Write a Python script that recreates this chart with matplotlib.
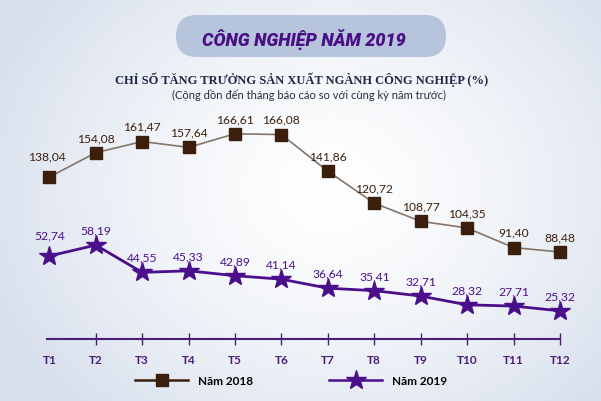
import numpy as np
import matplotlib.pyplot as plt
from matplotlib.patches import FancyBboxPatch
from matplotlib.lines import Line2D

months = ['T1', 'T2', 'T3', 'T4', 'T5', 'T6', 'T7', 'T8', 'T9', 'T10', 'T11', 'T12']
y2018 = [138.04, 154.08, 161.47, 157.64, 166.61, 166.08, 141.86, 120.72, 108.77, 104.35, 91.40, 88.48]
y2019 = [52.74, 58.19, 44.55, 45.33, 42.89, 41.14, 36.64, 35.41, 32.71, 28.32, 27.71, 25.32]

c18 = '#3b1f0c'
c18_line = '#857468'
c19 = '#4b0f8c'
c_axis = '#4b1d7a'

W, H = 601, 402
fig = plt.figure(figsize=(W / 100, H / 100), dpi=100)

# background gradient
bg = fig.add_axes([0, 0, 1, 1])
yy, xx = np.mgrid[0:H, 0:W]
r = np.sqrt(((xx - 330) / 360.0) ** 2 + ((yy - 190) / 300.0) ** 2)
r = np.clip(r, 0, 1)
c_in = np.array([1.0, 1.0, 1.0])
c_out = np.array([0.85, 0.88, 0.93])
img = c_in + (c_out - c_in) * r[..., None] ** 1.4
bg.imshow(img, aspect='auto', extent=[0, W, H, 0])
bg.set_xlim(0, W)
bg.set_ylim(H, 0)
bg.axis('off')

# title pill
pill = FancyBboxPatch((176, 16), 270, 42, boxstyle='round,pad=0,rounding_size=21',
                      fc='#b6c4dc', ec='none')
bg.add_patch(pill)
bg.text(304, 39, 'CÔNG NGHIỆP NĂM 2019', ha='center', va='center', fontsize=13,
        fontweight='heavy', style='italic', color='#4a0f85', family='Roboto')
bg.text(302, 80, 'CHỈ SỐ TĂNG TRƯỞNG SẢN XUẤT NGÀNH CÔNG NGHIỆP (%)', ha='center',
        va='center', fontsize=9, fontweight='bold', color='#1c2645', family='Liberation Serif')
bg.text(309, 95, '(Cộng dồn đến tháng báo cáo so với cùng kỳ năm trước)', ha='center',
        va='center', fontsize=8, color='#262b40', family='Lato')

# plot axes: x 0..11 -> 47..560 px, axis line at y=340 px, top at 100 px
left, right = 47 / W, 560 / W
bottom, top = (H - 340) / H, (H - 100) / H
ax1 = fig.add_axes([left, bottom, right - left, top - bottom])
ax2 = fig.add_axes([left, bottom, right - left, top - bottom])
ax1.patch.set_alpha(0)
ax2.patch.set_alpha(0)

x = np.arange(len(months))
ax1.plot(x, y2018, color=c18_line, lw=1.2, zorder=2, clip_on=False)
ax1.plot(x, y2018, ls='none', marker='s', ms=8, mfc=c18, mec=c18, zorder=3, clip_on=False)
ax1.set_ylim(30.97, 189.6)
ax2.plot(x, y2019, color=c19, lw=2, marker='*', ms=15, mfc=c19, mec=c19, zorder=3,
         clip_on=False)
ax2.set_ylim(11.24, 131.24)

for i, v in enumerate(y2018):
    dy = 11 if i == 0 else 7
    ax1.annotate(f'{v:.2f}'.replace('.', ','), (i, v), xytext=(-2 if i == 0 else 0, dy),
                 textcoords='offset points', ha='center', va='bottom', fontsize=8.7,
                 color=c18, family='Lato')
for i, v in enumerate(y2019):
    dy = 11 if i == 0 else 7
    ax2.annotate(f'{v:.2f}'.replace('.', ','), (i, v), xytext=(0, dy),
                 textcoords='offset points', ha='center', va='bottom', fontsize=8.7,
                 color=c19, family='Lato')

for ax in (ax1, ax2):
    ax.set_xlim(-0.05, 11)
    for s in ('top', 'right', 'left'):
        ax.spines[s].set_visible(False)
    ax.set_yticks([])
ax2.spines['bottom'].set_visible(False)
ax2.set_xticks([])
ax1.spines['bottom'].set_color(c_axis)
ax1.spines['bottom'].set_linewidth(1.5)
ax1.xaxis.remove_overlapping_locs = False
ax1.set_xticks(x)
ax1.set_xticklabels(months, fontsize=8.5, fontweight='bold', color=c_axis, family='Lato')
ax1.tick_params(axis='x', which='major', length=0, pad=11)
ax1.set_xticks(x[1:], minor=True)
ax1.tick_params(axis='x', which='minor', length=9, width=1, color=c_axis, direction='inout')

handles = [Line2D([], [], color=c18, lw=1.8, marker='s', ms=9),
           Line2D([], [], color=c19, lw=1.8, marker='*', ms=15)]
fig.legend(handles, ['Năm 2018', 'Năm 2019'], loc='center', bbox_to_anchor=(291 / W, 1 - 382 / H),
           ncol=2, frameon=False, handlelength=4.5, columnspacing=6.5,
           prop={'family': 'Lato', 'weight': 'bold', 'size': 8.5})

fig.savefig('out.png', dpi=100)
